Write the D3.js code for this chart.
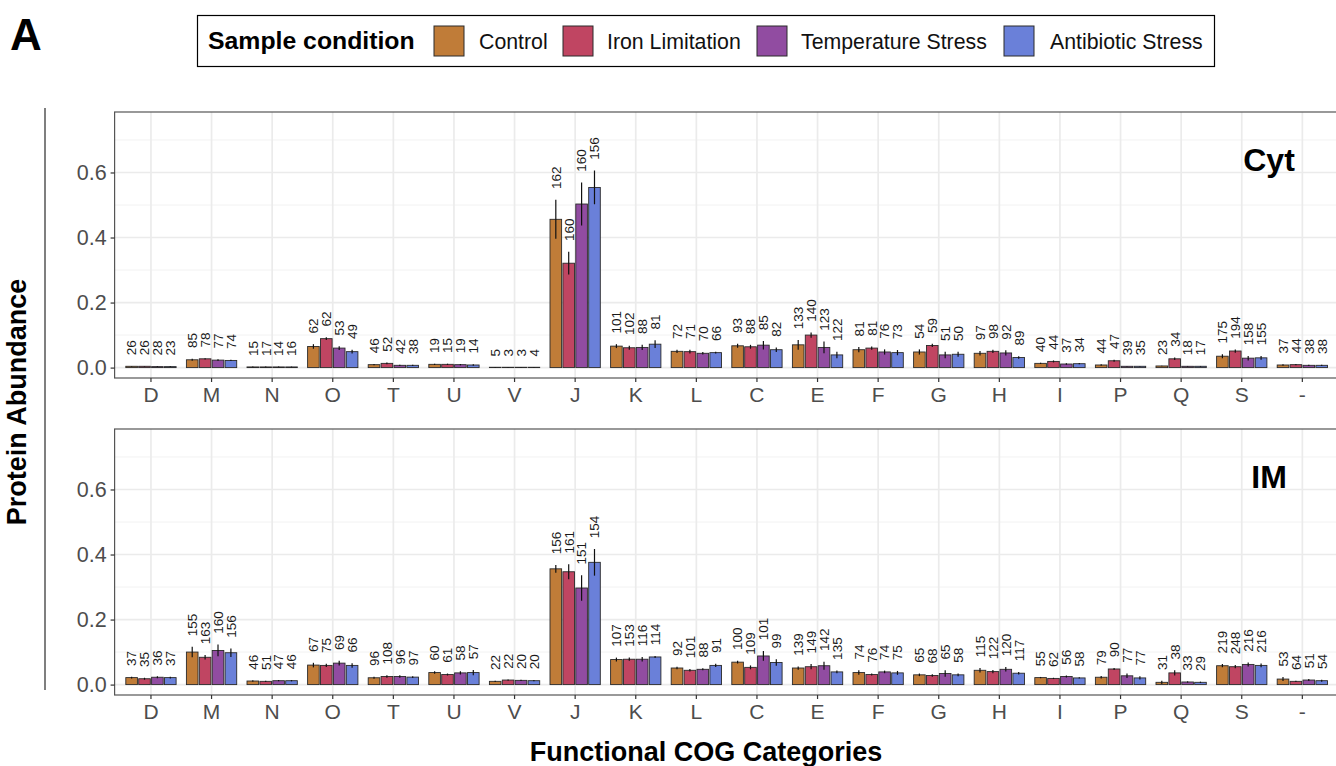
<!DOCTYPE html>
<html>
<head>
<meta charset="utf-8">
<script src="https://cdn.jsdelivr.net/npm/d3@7/dist/d3.min.js"></script>
<style>
  html, body { margin: 0; padding: 0; background: #fff; }
  svg { display: block; font-family: "Liberation Sans", Arial, Helvetica, sans-serif; }
</style>
</head>
<body>
<svg id="chart" width="1336" height="766"></svg>
<script>
// ---------------- DATA ----------------
const categories = ["D","M","N","O","T","U","V","J","K","L","C","E","F","G","H","I","P","Q","S","-"];
const conditions = ["Control","Iron Limitation","Temperature Stress","Antibiotic Stress"];
const colors = ["#C07C38","#C04562","#914CA1","#6A80D9"];
const yTicks = [0.0, 0.2, 0.4, 0.6];
const panels = ["Cyt","IM"];

// Cytoplasm: mean per category [Control, Iron, Temp, Antibiotic]
const cytMean = [
  [0.004,0.004,0.003,0.003],[0.024,0.027,0.023,0.022],[0.002,0.002,0.002,0.002],[0.065,0.089,0.060,0.049],
  [0.009,0.013,0.007,0.007],[0.010,0.010,0.009,0.008],[0.001,0.001,0.001,0.001],[0.456,0.321,0.503,0.554],
  [0.066,0.061,0.062,0.072],[0.050,0.049,0.044,0.046],[0.067,0.064,0.069,0.055],[0.070,0.100,0.062,0.039],
  [0.055,0.060,0.048,0.046],[0.048,0.068,0.039,0.041],[0.044,0.050,0.045,0.031],[0.013,0.019,0.011,0.012],
  [0.008,0.021,0.004,0.004],[0.005,0.027,0.004,0.004],[0.035,0.051,0.029,0.030],[0.008,0.009,0.007,0.007]
];
const cytSd = [
  [0.001,0.001,0.001,0.001],[0.003,0.002,0.003,0.002],[0.001,0.001,0.001,0.001],[0.007,0.004,0.006,0.006],
  [0.002,0.003,0.002,0.002],[0.002,0.002,0.002,0.002],[0.0005,0.0005,0.0005,0.0005],[0.060,0.035,0.066,0.052],
  [0.006,0.006,0.008,0.012],[0.005,0.006,0.004,0.003],[0.006,0.006,0.013,0.007],[0.015,0.008,0.018,0.010],
  [0.008,0.005,0.008,0.008],[0.008,0.005,0.010,0.008],[0.007,0.005,0.008,0.004],[0.002,0.003,0.002,0.002],
  [0.002,0.003,0.001,0.001],[0.001,0.004,0.001,0.001],[0.006,0.005,0.007,0.006],[0.002,0.002,0.002,0.002]
];
const cytCount = [
  [26,26,28,23],[85,78,77,74],[15,17,14,16],[62,62,53,49],[46,52,42,38],[19,15,19,14],[5,3,3,4],
  [162,160,160,156],[101,102,88,81],[72,71,70,66],[93,88,85,82],[133,140,123,122],[81,81,76,73],
  [54,59,51,50],[97,98,92,89],[40,44,37,34],[44,47,39,35],[23,34,18,17],[175,194,158,155],[37,44,38,38]
];

// Inner membrane
const imMean = [
  [0.0215,0.018,0.0226,0.0215],[0.100,0.084,0.105,0.098],[0.011,0.010,0.012,0.012],[0.060,0.059,0.066,0.059],
  [0.021,0.025,0.025,0.023],[0.037,0.031,0.036,0.037],[0.010,0.014,0.013,0.012],[0.356,0.347,0.297,0.376],
  [0.077,0.078,0.078,0.085],[0.051,0.044,0.047,0.059],[0.069,0.053,0.088,0.068],[0.051,0.055,0.058,0.039],
  [0.037,0.031,0.039,0.036],[0.030,0.028,0.034,0.030],[0.044,0.040,0.047,0.035],[0.0215,0.019,0.025,0.0205],
  [0.0226,0.048,0.027,0.0205],[0.007,0.036,0.008,0.007],[0.058,0.055,0.062,0.059],[0.017,0.010,0.014,0.012]
];
const imSd = [
  [0.003,0.003,0.003,0.003],[0.016,0.007,0.018,0.013],[0.002,0.002,0.002,0.002],[0.007,0.005,0.007,0.007],
  [0.003,0.004,0.004,0.003],[0.004,0.003,0.005,0.008],[0.002,0.002,0.002,0.002],[0.012,0.023,0.039,0.041],
  [0.006,0.005,0.007,0.003],[0.004,0.004,0.003,0.005],[0.004,0.006,0.015,0.010],[0.005,0.008,0.012,0.004],
  [0.007,0.003,0.004,0.006],[0.004,0.004,0.010,0.004],[0.007,0.005,0.007,0.004],[0.002,0.002,0.003,0.002],
  [0.004,0.003,0.007,0.005],[0.005,0.008,0.002,0.002],[0.005,0.005,0.006,0.006],[0.006,0.002,0.003,0.003]
];
const imCount = [
  [37,35,36,37],[155,163,160,156],[46,51,47,46],[67,75,69,66],[96,108,96,97],[60,61,58,57],[22,22,20,20],
  [156,161,151,154],[107,153,116,114],[92,101,88,91],[100,109,101,99],[139,149,142,135],[74,76,74,75],
  [65,68,65,58],[115,122,120,117],[55,62,56,58],[79,90,77,77],[31,38,33,29],[219,248,216,216],[53,64,51,54]
];

// ---------------- LAYOUT ----------------
const svg = d3.select("#chart");
const W = 1336, H = 766;
const panelLeft = 114.6, panelRight = 1338.7;
const panelH = 266;
const panelTops = [112, 429];
const yDomain = [-0.032, 0.786];
const tickCol = "#4D4D4D";

const x = d3.scaleBand().domain(categories).range([panelLeft, panelRight]).paddingInner(0).paddingOuter(0.1);
const step = x.step();
const sub = d3.scaleBand().domain(conditions).range([-0.415*step, 0.415*step]).paddingInner(0.1);
const xc = c => x(c) + x.bandwidth()/2;

const clip = svg.append("defs");
const panelData = [
  {name:"Cyt", mean:cytMean, sd:cytSd, count:cytCount},
  {name:"IM", mean:imMean, sd:imSd, count:imCount}
];

panelData.forEach((p, pi) => {
  const top = panelTops[pi];
  const y = d3.scaleLinear().domain(yDomain).range([top + panelH, top]);
  const g = svg.append("g");
  clip.append("clipPath").attr("id","clip"+pi).append("rect")
    .attr("x", panelLeft).attr("y", top).attr("width", panelRight-panelLeft).attr("height", panelH);
  const inner = g.append("g").attr("clip-path", `url(#clip${pi})`);
  inner.append("rect").attr("x", panelLeft).attr("y", top).attr("width", panelRight-panelLeft).attr("height", panelH).attr("fill","#fff");

  // minor grid
  const minor = [0.1,0.3,0.5,0.7];
  inner.selectAll(".minor").data(minor).join("line")
    .attr("x1", panelLeft).attr("x2", panelRight)
    .attr("y1", d=>y(d)).attr("y2", d=>y(d))
    .attr("stroke","#F0F0F0").attr("stroke-width",0.9);
  // major grid
  inner.selectAll(".majorY").data(yTicks).join("line")
    .attr("x1", panelLeft).attr("x2", panelRight)
    .attr("y1", d=>y(d)).attr("y2", d=>y(d))
    .attr("stroke","#EBEBEB").attr("stroke-width",1.7);
  inner.selectAll(".majorX").data(categories).join("line")
    .attr("x1", d=>xc(d)).attr("x2", d=>xc(d))
    .attr("y1", top).attr("y2", top+panelH)
    .attr("stroke","#EBEBEB").attr("stroke-width",1.7);

  // bars
  const rows = [];
  categories.forEach((c, ci) => conditions.forEach((s, si) => {
    rows.push({c, s, si, m:p.mean[ci][si], sd:p.sd[ci][si], n:p.count[ci][si]});
  }));
  inner.selectAll(".bar").data(rows).join("rect")
    .attr("x", d => xc(d.c) + sub(d.s))
    .attr("width", sub.bandwidth())
    .attr("y", d => y(d.m))
    .attr("height", d => y(0) - y(d.m))
    .attr("fill", d => colors[d.si])
    .attr("stroke","#2a2a2a").attr("stroke-width",0.9);
  // error bars
  inner.selectAll(".err").data(rows).join("line")
    .attr("x1", d => xc(d.c) + sub(d.s) + sub.bandwidth()/2)
    .attr("x2", d => xc(d.c) + sub(d.s) + sub.bandwidth()/2)
    .attr("y1", d => y(Math.max(0, d.m - d.sd)))
    .attr("y2", d => y(d.m + d.sd))
    .attr("stroke","#111").attr("stroke-width",1.2);
  // count labels
  inner.selectAll(".lab").data(rows).join("text")
    .attr("transform", d => `translate(${xc(d.c) + sub(d.s) + sub.bandwidth()/2},${y(d.m + d.sd + 0.033)}) rotate(-90)`)
    .attr("dy","0.36em")
    .attr("text-anchor","start")
    .attr("font-size",13.5)
    .attr("fill","#1a1a1a")
    .text(d => d.n);

  // panel label
  inner.append("text")
    .attr("x", xc("S") + 0.45*step).attr("y", y(0.64))
    .attr("dy","0.36em")
    .attr("text-anchor","middle").attr("font-weight","bold").attr("font-size",32)
    .attr("fill","#000").text(p.name);

  // border
  g.append("rect").attr("x", panelLeft).attr("y", top).attr("width", panelRight-panelLeft).attr("height", panelH)
    .attr("fill","none").attr("stroke","#555").attr("stroke-width",1.2);

  // y axis
  const ya = d3.axisLeft(y).tickValues(yTicks).tickFormat(d3.format(".1f")).tickSize(4).tickPadding(4);
  const yg = g.append("g").attr("transform",`translate(${panelLeft},0)`).call(ya);
  yg.select(".domain").remove();
  yg.selectAll(".tick line").attr("stroke","#333").attr("stroke-width",1.2);
  yg.selectAll(".tick text").attr("font-size",21.5).attr("fill",tickCol).attr("font-family",null);

  // x axis
  const xa = d3.axisBottom(x).tickSize(4).tickPadding(5);
  const xg = g.append("g").attr("transform",`translate(0,${top+panelH})`).call(xa);
  xg.select(".domain").remove();
  xg.selectAll(".tick line").attr("stroke","#333").attr("stroke-width",1.2);
  xg.selectAll(".tick text").attr("font-size",21).attr("fill",tickCol).attr("font-family",null);
});

// left spine line
svg.append("line").attr("x1",45).attr("x2",45).attr("y1",108).attr("y2",690)
  .attr("stroke","#555").attr("stroke-width",1.5);

// axis titles
svg.append("text").attr("transform","translate(26,402) rotate(-90)")
  .attr("text-anchor","middle").attr("font-weight","bold").attr("font-size",27).text("Protein Abundance");
svg.append("text").attr("x",706).attr("y",761)
  .attr("text-anchor","middle").attr("font-weight","bold").attr("font-size",27).text("Functional COG Categories");

// panel letter
svg.append("text").attr("x",10).attr("y",50).attr("font-weight","bold").attr("font-size",44).text("A");

// legend
const lg = svg.append("g");
lg.append("rect").attr("x",197.5).attr("y",15.5).attr("width",1017).attr("height",51)
  .attr("fill","#fff").attr("stroke","#000").attr("stroke-width",1.2);
lg.append("text").attr("x",208).attr("y",49).attr("font-weight","bold").attr("font-size",24.8).text("Sample condition");
const keyX = [434, 563, 757, 1004];
const labX = [479, 607, 801, 1050];
conditions.forEach((c, i) => {
  lg.append("rect").attr("x",keyX[i]).attr("y",26).attr("width",30).attr("height",30)
    .attr("fill",colors[i]).attr("stroke","#2a2a2a").attr("stroke-width",1);
  lg.append("text").attr("x",labX[i]).attr("y",48.5).attr("font-size",21.3).attr("fill","#111").text(c);
});
</script>
</body>
</html>
